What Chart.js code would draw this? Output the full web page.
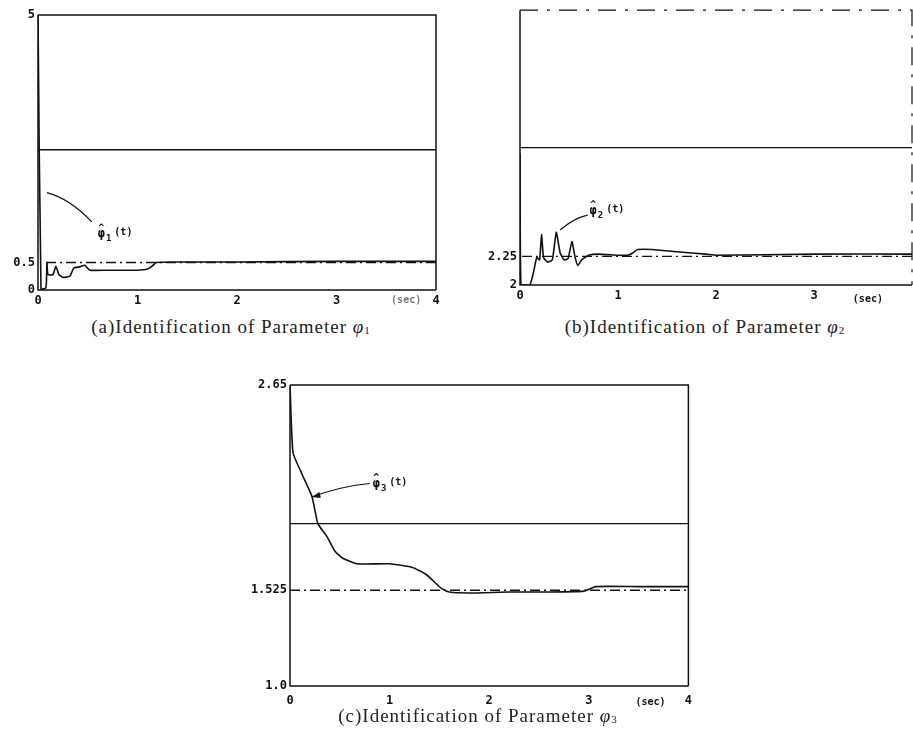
<!DOCTYPE html>
<html>
<head>
<meta charset="utf-8">
<script src="https://cdn.jsdelivr.net/npm/chart.js@4.4.1/dist/chart.umd.min.js"></script>
<style>
  body { margin: 0; background: #fff; }
  #page { position: relative; width: 913px; height: 731px; overflow: hidden; background: #fff; }
  .panel { position: absolute; }
  .caption {
    position: absolute; transform: translateX(-50%); white-space: nowrap;
    font-family: "Liberation Serif", serif; font-size: 19px; color: #222; letter-spacing: 1px;
  }
  .caption sub { font-size: 11px; vertical-align: -1px; }
</style>
</head>
<body>
<div id="page">
  <div class="panel" style="left:0px;top:0px;width:446px;height:310px"><canvas id="chartA"></canvas></div>
  <div class="panel" style="left:470px;top:0px;width:443px;height:305px"><canvas id="chartB"></canvas></div>
  <div class="panel" style="left:240px;top:370px;width:460px;height:340px"><canvas id="chartC"></canvas></div>
  <div class="caption" style="left:231px;top:316px">(a)Identification of Parameter <i>φ</i><sub>1</sub></div>
  <div class="caption" style="left:705px;top:316px">(b)Identification of Parameter <i>φ</i><sub>2</sub></div>
  <div class="caption" style="left:478px;top:705px">(c)Identification of Parameter <i>φ</i><sub>3</sub></div>
</div>
<script>
// ---- data ----
// (a) parameter phi1
const phi1Time = [0, 0.03, 0.08, 0.09, 0.1, 0.15, 0.18, 0.21, 0.25, 0.32, 0.36, 0.42, 0.47, 0.52, 0.7, 1.0, 1.1, 1.15, 1.19, 1.4, 2, 3, 4];
const phi1Est  = [5.0, 0.02, 0.04, 0.5, 0.28, 0.28, 0.43, 0.28, 0.23, 0.25, 0.4, 0.42, 0.45, 0.36, 0.36, 0.36, 0.38, 0.44, 0.5, 0.51, 0.51, 0.52, 0.52];
const phi1True = 0.5;
const phi1Mid = 2.55;
const yTicksA = [0, 0.5, 5];
const yLabelsA = ['0', '0.5', '5'];

// (b) parameter phi2
const phi2Time = [0, 0.01, 0.1, 0.14, 0.17, 0.2, 0.22, 0.24, 0.28, 0.33, 0.37, 0.41, 0.45, 0.49, 0.53, 0.56, 0.59, 0.63, 0.7, 0.8, 1.0, 1.1, 1.15, 1.2, 1.35, 1.6, 1.9, 2.0, 3.0, 4.0];
const phi2Est  = [3.15, 2.0, 2.0, 2.12, 2.24, 2.22, 2.44, 2.24, 2.2, 2.22, 2.46, 2.28, 2.22, 2.23, 2.38, 2.25, 2.17, 2.22, 2.26, 2.27, 2.26, 2.26, 2.28, 2.31, 2.31, 2.29, 2.27, 2.26, 2.27, 2.27];
const phi2True = 2.25;
const phi2Mid = 3.2;
const yTicksB = [2, 2.25];
const yLabelsB = ['2', '2.25'];

// (c) parameter phi3
const phi3Time = [0, 0.03, 0.13, 0.22, 0.28, 0.37, 0.45, 0.53, 0.67, 1.0, 1.23, 1.37, 1.47, 1.52, 1.6, 1.8, 2.2, 2.6, 2.95, 3.07, 3.5, 4];
const phi3Est  = [2.65, 2.28, 2.15, 2.04, 1.89, 1.82, 1.74, 1.70, 1.67, 1.67, 1.65, 1.61, 1.56, 1.535, 1.515, 1.51, 1.515, 1.515, 1.52, 1.545, 1.545, 1.545];
const phi3True = 1.525;
const phi3Mid = 1.89;
const yTicksC = [1.0, 1.525, 2.65];
const yLabelsC = ['1.0', '1.525', '2.65'];

const timeTicks = [0, 1, 2, 3, 4];

// label pointers, in data units: [t, value]
const noteA = { from: [0.09, 1.77], to: [0.54, 1.24], text: [0.6, 1.02], sub: '1', arrow: false };
const noteB = { from: [0.41, 2.48], to: [0.69, 2.61], text: [0.71, 2.65], sub: '2', arrow: false };
const noteC = { from: [0.22, 2.036], to: [0.8, 2.11], text: [0.83, 2.11], sub: '3', arrow: true };

const tickFont = { family: 'DejaVu Sans Mono', size: 12, weight: 'bold' };
const dashDot = [10, 4, 2, 4];

// draws the frame, the (sec) unit and the curve label
const framePlugin = {
    id: 'frame',
    afterDatasetsDraw(chart, args, opts) {
        const { ctx, chartArea: a, scales: { x, y } } = chart;
        ctx.save();
        ctx.strokeStyle = '#111';
        ctx.lineWidth = 1.5;
        ctx.beginPath();
        ctx.moveTo(a.left, a.top);
        ctx.lineTo(a.left, a.bottom);
        ctx.lineTo(a.right, a.bottom);
        ctx.stroke();
        if (opts.dashedTop) {
            ctx.lineWidth = 1.2;
            ctx.setLineDash([18, 9, 3, 9]);
        }
        ctx.beginPath();
        ctx.moveTo(a.left, a.top);
        ctx.lineTo(a.right, a.top);
        ctx.lineTo(a.right, a.bottom);
        ctx.stroke();
        ctx.setLineDash([]);

        // unit label under the time axis
        ctx.font = 'bold 10px "DejaVu Sans Mono"';
        ctx.fillStyle = opts.unitColor;
        ctx.textAlign = 'center';
        ctx.textBaseline = 'top';
        ctx.fillText('(sec)', x.getPixelForValue(opts.unitAt), a.bottom + opts.unitDy);

        // pointer from the curve to its label
        const n = opts.note;
        const x0 = x.getPixelForValue(n.from[0]), y0 = y.getPixelForValue(n.from[1]);
        const x1 = x.getPixelForValue(n.to[0]), y1 = y.getPixelForValue(n.to[1]);
        ctx.strokeStyle = '#111';
        ctx.lineWidth = 1.2;
        ctx.beginPath();
        ctx.moveTo(x1, y1);
        ctx.quadraticCurveTo((x0 + x1) / 2, Math.min(y0, y1) + Math.abs(y1 - y0) * 0.2, x0, y0);
        ctx.stroke();
        if (n.arrow) {
            const ang = Math.atan2(y0 - y1, x0 - x1);
            ctx.fillStyle = '#111';
            ctx.beginPath();
            ctx.moveTo(x0, y0);
            ctx.lineTo(x0 - 9 * Math.cos(ang - 0.35), y0 - 9 * Math.sin(ang - 0.35));
            ctx.lineTo(x0 - 9 * Math.cos(ang + 0.35), y0 - 9 * Math.sin(ang + 0.35));
            ctx.closePath();
            ctx.fill();
        }

        // phi-hat with subscript, then (t)
        let tx = x.getPixelForValue(n.text[0]);
        const ty = y.getPixelForValue(n.text[1]);
        ctx.fillStyle = '#111';
        ctx.textAlign = 'left';
        ctx.textBaseline = 'middle';
        ctx.font = 'bold 12px "DejaVu Sans Mono"';
        ctx.fillText('φ', tx, ty);
        const w = ctx.measureText('φ').width;
        ctx.lineWidth = 1.1;
        ctx.beginPath();
        ctx.moveTo(tx + 1.5, ty - 8);
        ctx.lineTo(tx + w / 2, ty - 10);
        ctx.lineTo(tx + w - 1.5, ty - 8);
        ctx.stroke();
        tx += w + 1;
        ctx.font = 'bold 9px "DejaVu Sans Mono"';
        ctx.fillText(n.sub, tx, ty + 5);
        tx += ctx.measureText(n.sub).width + 3;
        ctx.font = 'bold 10px "DejaVu Sans Mono"';
        ctx.fillText('(t)', tx, ty - 1);
        ctx.restore();
    }
};

const toPoints = (times, values) => times.map((t, i) => ({ x: t, y: values[i] }));

const buildChart = (id, cfg) => {
    const ctx = document.getElementById(id).getContext('2d');
    return new Chart(ctx, {
        type: 'line',
        data: {
            datasets: [
                {
                    label: 'estimate',
                    data: toPoints(cfg.time, cfg.est),
                    borderColor: '#111',
                    borderWidth: 1.6,
                    pointRadius: 0,
                    tension: 0.15
                },
                {
                    label: 'true value',
                    data: toPoints(cfg.trueSpan, [cfg.trueVal, cfg.trueVal]),
                    borderColor: '#111',
                    borderWidth: 1.3,
                    borderDash: dashDot,
                    pointRadius: 0
                },
                {
                    label: 'mid line',
                    data: toPoints([0, 4], [cfg.mid, cfg.mid]),
                    borderColor: '#111',
                    borderWidth: 1.4,
                    pointRadius: 0
                }
            ]
        },
        options: {
            responsive: true,
            maintainAspectRatio: false,
            animation: false,
            layout: { padding: cfg.padding },
            plugins: {
                legend: { display: false },
                tooltip: { enabled: false },
                frame: cfg.frame
            },
            scales: {
                x: {
                    type: 'linear',
                    min: 0,
                    max: 4,
                    grid: { display: false, drawTicks: false },
                    border: { display: false },
                    afterBuildTicks: axis => { axis.ticks = cfg.xTicks.map(v => ({ value: v })); },
                    afterFit: axis => { axis.height = cfg.xHeight; },
                    ticks: { font: tickFont, color: '#111', padding: cfg.xPad, autoSkip: false, maxRotation: 0 }
                },
                y: {
                    type: 'linear',
                    min: cfg.yMin,
                    max: cfg.yMax,
                    grid: { display: false, drawTicks: false },
                    border: { display: false },
                    afterBuildTicks: axis => { axis.ticks = cfg.yTicks.map(v => ({ value: v })); },
                    afterFit: axis => { axis.width = cfg.yWidth; },
                    ticks: {
                        font: tickFont,
                        color: '#111',
                        padding: 3,
                        autoSkip: false,
                        callback: (value, index) => cfg.yLabels[index]
                    }
                }
            }
        },
        plugins: [framePlugin]
    });
};

buildChart('chartA', {
    time: phi1Time, est: phi1Est, trueVal: phi1True, trueSpan: [0.08, 4], mid: phi1Mid,
    yMin: 0, yMax: 5, yTicks: yTicksA, yLabels: yLabelsA, xTicks: timeTicks, yWidth: 38,
    xHeight: 20, xPad: 4,
    padding: { top: 15, right: 10, bottom: 0, left: 0 },
    frame: { dashedTop: false, unitAt: 3.7, unitDy: 5, unitColor: '#777', note: noteA }
});

buildChart('chartB', {
    time: phi2Time, est: phi2Est, trueVal: phi2True, trueSpan: [0.02, 4], mid: phi2Mid,
    yMin: 2, yMax: 4.4, yTicks: yTicksB, yLabels: yLabelsB, xTicks: [0, 1, 2, 3], yWidth: 50,
    xHeight: 20, xPad: 4,
    padding: { top: 5, right: 1, bottom: 0, left: 0 },
    frame: { dashedTop: true, unitAt: 3.55, unitDy: 9, unitColor: '#111', note: noteB }
});

buildChart('chartC', {
    time: phi3Time, est: phi3Est, trueVal: phi3True, trueSpan: [0, 4], mid: phi3Mid,
    yMin: 1.0, yMax: 2.65, yTicks: yTicksC, yLabels: yLabelsC, xTicks: timeTicks, yWidth: 50,
    xHeight: 24, xPad: 8,
    padding: { top: 15, right: 10, bottom: 0, left: 0 },
    frame: { dashedTop: false, unitAt: 3.62, unitDy: 11, unitColor: '#111', note: noteC }
});
</script>
</body>
</html>
